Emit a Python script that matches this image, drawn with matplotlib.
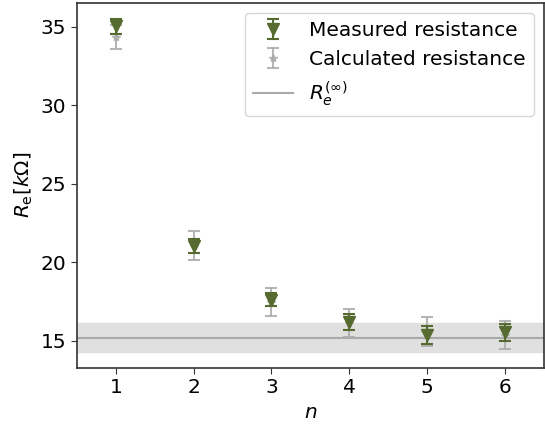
import matplotlib
matplotlib.use("Agg")
import matplotlib.pyplot as plt
import numpy as np

n = [1, 2, 3, 4, 5, 6]
measured = [35.03, 21.05, 17.61, 16.21, 15.38, 15.54]
measured_err = [0.48, 0.45, 0.42, 0.5, 0.59, 0.52]
calculated = [34.36, 21.05, 17.46, 16.16, 15.6, 15.38]
calculated_err = [0.76, 0.92, 0.9, 0.88, 0.9, 0.9]
r_inf = 15.21
r_inf_err = 0.93

plt.rcParams['font.size'] = 14.5
fig, ax = plt.subplots(figsize=(5.45, 4.25), dpi=100)

ax.axhspan(r_inf - r_inf_err, r_inf + r_inf_err, color='#e0e0e0', zorder=0)
h1 = ax.errorbar(n, measured, yerr=measured_err, fmt='v', color='#556b2f', markersize=8,
                 capsize=4, elinewidth=1.5, capthick=1.5, label='Measured resistance', zorder=3)
h2 = ax.errorbar(n, calculated, yerr=calculated_err, fmt='*', color='#aaaaaa', markersize=6,
                 capsize=4, elinewidth=1.5, capthick=1.5, alpha=0.85, label='Calculated resistance', zorder=2)
h3 = ax.axhline(r_inf, color='#aaaaaa', lw=1.5, label=r'$R_e^{(\infty)}$', zorder=1)

ax.set_xlim(0.5, 6.5)
ax.set_ylim(13.3, 36.5)
ax.set_xticks(n)
ax.set_yticks([15, 20, 25, 30, 35])
ax.set_xlabel(r'$n$')
ax.set_ylabel(r'$R_\mathrm{e}[k\Omega]$')
for s in ax.spines.values():
    s.set_color('#333333')
    s.set_linewidth(1.2)
ax.tick_params(color='#333333', length=4)
ax.legend(handles=[h1, h2, h3], loc='upper right')
fig.subplots_adjust(left=0.141, right=0.998, top=0.993, bottom=0.135)
fig.savefig('out.png', dpi=100)
